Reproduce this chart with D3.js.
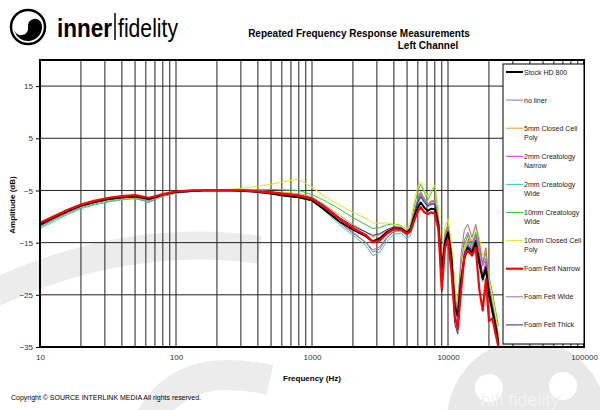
<!DOCTYPE html>
<html>
<head>
<meta charset="utf-8">
<script src="https://cdn.jsdelivr.net/npm/d3@7"></script>
<style>
  body { margin: 0; background: #fff; }
  text { font-family: "Liberation Sans", Arial, sans-serif; }
</style>
</head>
<body>
<svg id="chart" width="600" height="410"></svg>
<script>
// frequency points (Hz) shared by all measurements
var freqs = [10, 13, 16, 20, 25, 32, 40, 50, 58, 63, 70, 80, 100, 130, 160, 200, 250, 320, 400, 500,
  630, 800, 1000, 1250, 1600, 2000, 2500, 2800, 3150, 3550, 4000, 4500, 5000, 5300, 5600, 6000,
  6300, 6700, 7100, 7500, 8000, 8500, 9000, 9500, 10000, 10600, 11200, 11800, 12500, 13200,
  14000, 15000, 16000, 17000, 18000, 19000, 20000, 21200, 22400, 23500];

var seriesNames = ["Stock HD 800", "no liner", "5mm Closed Cell Poly", "2mm Creatology Narrow",
  "2mm Creatology Wide", "10mm Creatology Wide", "10mm Closed Cell Poly", "Foam Felt Narrow",
  "Foam Felt Wide", "Foam Felt Thick"];

var stockHD800 = [-11.5,-10.0,-8.9,-7.9,-7.2,-6.6,-6.3,-6.1,-6.4,-6.6,-6.3,-5.8,-5.3,-5.1,-5.0,-5.0,-5.0,-5.1,-5.3,-5.6,-6.0,-6.3,-6.9,-8.8,-11.0,-12.5,-13.8,-14.8,-14.2,-13.0,-12.3,-12.4,-13.1,-12.5,-10.5,-8.3,-7.3,-8.3,-8.9,-8.5,-8.6,-11.5,-20.0,-15.0,-13.0,-18.0,-27.0,-29.0,-22.0,-18.0,-16.0,-17.0,-15.0,-19.0,-22.0,-20.0,-25.0,-28.0,-31.0,-34.5];
var noLiner = [-12.0,-10.5,-9.4,-8.3,-7.6,-7.0,-6.7,-6.5,-7.0,-7.3,-6.8,-6.1,-5.5,-5.2,-5.0,-5.0,-5.0,-5.0,-5.1,-5.3,-5.5,-5.9,-6.6,-8.5,-11.0,-13.0,-15.0,-16.8,-16.2,-14.2,-12.8,-12.6,-13.4,-12.2,-9.5,-6.5,-5.2,-6.5,-7.6,-7.0,-6.8,-10.5,-22.0,-14.0,-12.0,-17.5,-28.0,-26.0,-19.0,-14.5,-13.0,-15.0,-13.5,-16.0,-19.5,-18.0,-23.0,-26.5,-30.0,-33.5];
var closedCell5mm = [-11.8,-10.3,-9.2,-8.1,-7.4,-6.8,-6.5,-6.3,-6.6,-6.8,-6.4,-5.9,-5.4,-5.1,-5.0,-5.0,-4.9,-4.9,-5.0,-5.2,-5.4,-5.6,-6.2,-7.8,-9.8,-11.5,-13.0,-13.9,-13.5,-12.6,-12.0,-12.0,-12.8,-12.0,-9.8,-6.8,-5.5,-6.6,-7.6,-7.0,-7.0,-10.8,-21.0,-14.2,-12.5,-17.0,-26.0,-27.5,-20.5,-16.5,-14.5,-16.0,-14.0,-17.5,-21.0,-19.0,-24.0,-27.0,-30.5,-33.0];
var creatology2mmNarrow = [-11.9,-10.4,-9.3,-8.2,-7.5,-6.9,-6.5,-6.3,-6.6,-6.8,-6.4,-5.9,-5.4,-5.1,-5.0,-5.0,-5.0,-5.0,-5.1,-5.3,-5.6,-5.9,-6.5,-8.3,-10.6,-12.3,-13.8,-14.6,-14.0,-12.8,-12.2,-12.3,-13.0,-12.2,-9.8,-6.9,-5.8,-6.9,-7.8,-7.4,-7.4,-11.0,-23.0,-14.8,-12.8,-18.5,-27.5,-30.0,-21.5,-16.0,-14.0,-16.5,-13.5,-17.0,-21.5,-18.5,-24.5,-28.5,-32.0,-34.5];
var creatology2mmWide = [-12.3,-10.8,-9.6,-8.5,-7.8,-7.2,-6.8,-6.6,-6.9,-7.1,-6.7,-6.1,-5.5,-5.2,-5.0,-5.0,-5.0,-5.1,-5.3,-5.6,-6.0,-6.4,-7.0,-9.0,-11.6,-13.6,-15.6,-17.5,-16.8,-14.8,-13.4,-13.2,-14.2,-13.6,-11.5,-8.0,-6.2,-7.5,-8.2,-7.8,-7.6,-11.8,-22.5,-15.5,-13.5,-19.0,-28.5,-31.0,-23.0,-17.5,-15.0,-17.5,-14.5,-18.5,-22.5,-20.0,-25.5,-29.0,-32.5,-35.0];
var creatology10mmWide = [-11.9,-10.4,-9.3,-8.2,-7.5,-6.9,-6.6,-6.4,-6.7,-6.9,-6.5,-6.0,-5.4,-5.1,-5.0,-5.0,-4.9,-4.8,-4.8,-4.8,-4.9,-5.0,-5.8,-7.0,-8.6,-10.2,-11.6,-12.3,-12.1,-11.6,-11.4,-11.7,-12.5,-11.5,-8.5,-5.2,-3.8,-5.4,-6.8,-5.6,-4.2,-9.5,-20.5,-13.0,-11.5,-16.0,-23.5,-30.0,-21.0,-15.5,-13.5,-15.5,-13.0,-15.5,-19.0,-17.0,-21.5,-24.5,-28.0,-31.0];
var closedCell10mm = [-11.9,-10.4,-9.3,-8.2,-7.5,-6.9,-6.6,-6.4,-6.7,-6.9,-6.5,-6.0,-5.4,-5.1,-5.0,-5.0,-4.8,-4.5,-4.2,-3.8,-3.3,-2.8,-4.4,-6.2,-7.8,-9.2,-10.4,-11.2,-11.3,-11.2,-11.5,-11.8,-12.4,-11.0,-7.5,-4.2,-3.4,-5.0,-6.2,-5.0,-3.9,-8.5,-19.0,-12.0,-10.5,-15.0,-23.0,-26.5,-20.0,-16.0,-14.0,-14.5,-12.0,-14.0,-17.5,-16.0,-22.0,-25.5,-29.0,-32.5];
var foamFeltNarrow = [-11.2,-9.8,-8.7,-7.7,-7.0,-6.4,-6.1,-5.9,-6.2,-6.4,-6.1,-5.7,-5.2,-5.0,-5.0,-5.0,-5.0,-5.0,-5.2,-5.4,-5.7,-6.0,-6.6,-8.3,-10.5,-12.2,-13.6,-14.9,-14.6,-13.3,-12.4,-12.5,-13.3,-12.8,-11.0,-9.0,-8.2,-9.2,-9.5,-9.2,-9.4,-12.5,-24.0,-16.0,-14.5,-20.5,-29.0,-31.5,-24.0,-17.5,-16.5,-17.5,-16.0,-24.0,-28.0,-22.0,-30.0,-29.5,-32.5,-35.0];
var foamFeltWide = [-11.8,-10.3,-9.2,-8.1,-7.4,-6.8,-6.5,-6.3,-6.7,-6.9,-6.5,-6.0,-5.4,-5.1,-5.0,-5.0,-5.0,-5.1,-5.3,-5.6,-5.9,-6.2,-6.8,-8.7,-11.2,-13.2,-15.0,-16.4,-15.8,-14.0,-12.8,-12.8,-13.6,-12.6,-10.0,-6.8,-5.6,-6.8,-7.8,-7.2,-7.0,-10.5,-21.5,-13.5,-12.0,-16.5,-26.5,-27.5,-17.0,-12.5,-11.5,-14.0,-11.5,-15.0,-19.0,-16.0,-23.0,-27.0,-30.0,-33.0];
var foamFeltThick = [-11.7,-10.2,-9.1,-8.0,-7.3,-6.7,-6.4,-6.2,-6.5,-6.7,-6.3,-5.8,-5.3,-5.1,-5.0,-5.0,-5.0,-5.0,-5.1,-5.3,-5.6,-5.9,-6.4,-8.0,-10.2,-11.8,-13.0,-13.6,-13.3,-12.5,-12.0,-12.1,-12.9,-12.1,-9.9,-7.2,-6.2,-7.2,-8.0,-7.6,-7.6,-11.2,-24.5,-15.5,-13.0,-19.0,-30.5,-32.5,-22.5,-17.0,-15.5,-16.5,-14.5,-18.0,-21.5,-19.5,-24.0,-27.5,-31.5,-34.0];

var yTicks = [15, 5, -5, -15, -25, -35];
var xTickLabels = [10, 100, 1000, 10000, 100000];

var seriesValues = [stockHD800, noLiner, closedCell5mm, creatology2mmNarrow, creatology2mmWide,
  creatology10mmWide, closedCell10mm, foamFeltNarrow, foamFeltWide, foamFeltThick];
var colors = ["#000000", "#9a6e9e", "#f09a30", "#ee22ee", "#33c8d0", "#33cc33", "#f0e020",
  "#ff0000", "#a86e80", "#2a2a8a"];
var widths = [2, 1, 1, 1, 1, 1, 1, 2.2, 1, 1];

var svg = d3.select("#chart");
var plotL = 40, plotR = 584, plotT = 60, plotB = 347;

var x = d3.scaleLog().domain([10, 100000]).range([plotL, plotR]);
var y = d3.scaleLinear().domain([-35, 20]).range([plotB, plotT]);

// faint watermark in the background
var wm = svg.append("g").attr("fill", "none").attr("stroke", "#ececec");
wm.append("path").attr("stroke-width", 28)
  .attr("d", "M-20,300 Q120,230 260,250");
wm.append("path").attr("stroke-width", 30)
  .attr("d", "M150,420 Q180,360 270,380");
wm.append("circle").attr("cx", 527).attr("cy", 420).attr("r", 80)
  .attr("fill", "#e8e8e8").attr("stroke", "none");
wm.append("circle").attr("cx", 489).attr("cy", 388).attr("r", 14).attr("fill", "#fff").attr("stroke", "none");
wm.append("circle").attr("cx", 563).attr("cy", 386).attr("r", 14).attr("fill", "#fff").attr("stroke", "none");
wm.append("text").attr("x", 520).attr("y", 406).attr("text-anchor", "middle")
  .attr("font-size", 18).attr("fill", "#f2f2f2").attr("stroke", "none").text("hifi fidelity");

// logo
var logo = svg.append("g").attr("transform", "translate(28,27)");
logo.append("circle").attr("r", 17).attr("fill", "#fff").attr("stroke", "#000").attr("stroke-width", 2.5);
logo.append("path").attr("transform", "rotate(-100)")
  .attr("d", "M0,-14 A14,14 0 0 0 0,14 A7,7 0 0 0 0,0 A7,7 0 0 1 0,-14 Z").attr("fill", "#000");
logo.append("circle").attr("cx", -7).attr("cy", 1).attr("r", 2.3).attr("fill", "#fff");
logo.append("circle").attr("cx", 7).attr("cy", -1).attr("r", 2.3).attr("fill", "#000");
svg.append("text").attr("x", 57).attr("y", 37).attr("font-size", 26).attr("font-weight", "bold")
  .attr("textLength", 55).attr("lengthAdjust", "spacingAndGlyphs").text("inner");
svg.append("line").attr("x1", 115).attr("x2", 115).attr("y1", 13).attr("y2", 40)
  .attr("stroke", "#000").attr("stroke-width", 1.5);
svg.append("text").attr("x", 118).attr("y", 37).attr("font-size", 26)
  .attr("textLength", 60).attr("lengthAdjust", "spacingAndGlyphs").text("fidelity");

// titles
svg.append("text").attr("x", 359).attr("y", 37).attr("text-anchor", "middle")
  .attr("font-size", 10).attr("font-weight", "bold").text("Repeated Frequency Response Measurements");
svg.append("text").attr("x", 428).attr("y", 49).attr("text-anchor", "middle")
  .attr("font-size", 10).attr("font-weight", "bold").text("Left Channel");

// grid
var grid = svg.append("g");
grid.selectAll("line.v").data(x.ticks()).join("line")
  .attr("x1", d => x(d)).attr("x2", d => x(d)).attr("y1", plotT).attr("y2", plotB)
  .attr("stroke", "#222").attr("stroke-width", 1);
grid.selectAll("line.h").data(yTicks.slice(0, -1)).join("line")
  .attr("x1", plotL).attr("x2", plotR).attr("y1", d => y(d)).attr("y2", d => y(d))
  .attr("stroke", "#222").attr("stroke-width", 1);

// curves
var line = d3.line().x((d, i) => x(freqs[i])).y(d => y(d));
var drawOrder = [1, 2, 3, 4, 5, 6, 8, 9, 0, 7];
svg.append("g").selectAll("path").data(drawOrder).join("path")
  .attr("d", k => line(seriesValues[k]))
  .attr("fill", "none").attr("stroke", k => colors[k]).attr("stroke-width", k => widths[k])
  .attr("stroke-linejoin", "round");

// frame
svg.append("rect").attr("x", plotL).attr("y", plotT).attr("width", plotR - plotL).attr("height", plotB - plotT)
  .attr("fill", "none").attr("stroke", "#000").attr("stroke-width", 2);

// axes
var yAxis = svg.append("g").attr("transform", `translate(${plotL},0)`)
  .call(d3.axisLeft(y).tickValues(yTicks).tickSize(4).tickPadding(3).tickFormat(d3.format("d")));
yAxis.select(".domain").remove();
yAxis.selectAll("text").attr("font-size", 8).attr("fill", "#333").style("font-family", "Liberation Sans, Arial, sans-serif");

var xAxis = svg.append("g").attr("transform", `translate(0,${plotB})`)
  .call(d3.axisBottom(x).tickValues(xTickLabels).tickSize(0).tickPadding(7).tickFormat(d3.format("d")));
xAxis.select(".domain").remove();
xAxis.selectAll("text").attr("font-size", 8).attr("fill", "#333").style("font-family", "Liberation Sans, Arial, sans-serif");

svg.append("text").attr("transform", "translate(15,205) rotate(-90)").attr("text-anchor", "middle")
  .attr("font-size", 8).attr("font-weight", "bold").text("Amplitude (dB)");
svg.append("text").attr("x", 312).attr("y", 381).attr("text-anchor", "middle")
  .attr("font-size", 8).attr("font-weight", "bold").text("Frequency (Hz)");
svg.append("text").attr("x", 11).attr("y", 400).attr("font-size", 7)
  .attr("textLength", 190).attr("lengthAdjust", "spacingAndGlyphs")
  .text("Copyright \u00a9 SOURCE INTERLINK MEDIA All rights reserved.");

// legend
var lg = svg.append("g");
lg.append("rect").attr("x", 503).attr("y", 64).attr("width", 81).attr("height", 280)
  .attr("fill", "#fff").attr("stroke", "#000").attr("stroke-width", 1);
var legendLines = seriesNames.map(n => {
  if (n === "5mm Closed Cell Poly") return ["5mm Closed Cell", "Poly"];
  if (n === "2mm Creatology Narrow") return ["2mm Creatology", "Narrow"];
  if (n === "2mm Creatology Wide") return ["2mm Creatology", "Wide"];
  if (n === "10mm Creatology Wide") return ["10mm Creatology", "Wide"];
  if (n === "10mm Closed Cell Poly") return ["10mm Closed Cell", "Poly"];
  return [n];
});
var item = lg.selectAll("g.item").data(seriesNames).join("g")
  .attr("transform", (d, i) => `translate(0,${72 + i * 28.1})`);
item.append("line").attr("x1", 506).attr("x2", 523).attr("y1", 0).attr("y2", 0)
  .attr("stroke", (d, i) => colors[i]).attr("stroke-width", (d, i) => widths[i]);
item.each(function(d, i) {
  var t = d3.select(this).append("text").attr("x", 524).attr("y", 2.5).attr("font-size", 7).attr("fill", "#222");
  legendLines[i].forEach((s, j) => {
    t.append("tspan").attr("x", 524).attr("dy", j ? 9 : 0).text(s);
  });
});
</script>
</body>
</html>
